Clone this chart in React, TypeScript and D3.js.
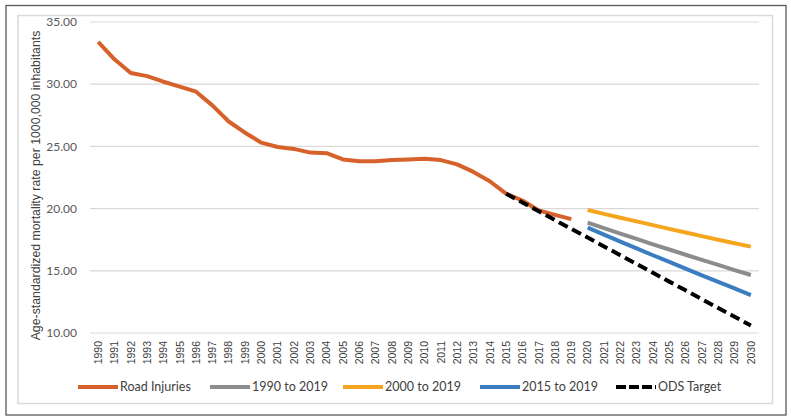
import React from "react";
import * as d3 from "d3";

const years: number[] = [];
for (let y = 1990; y <= 2030; y++) years.push(y);

const roadYears = [1990,1991,1992,1993,1994,1995,1996,1997,1998,1999,2000,2001,2002,2003,2004,2005,2006,2007,2008,2009,2010,2011,2012,2013,2014,2015,2016,2017,2018,2019];
const roadInjuries = [33.4,32.0,30.9,30.65,30.2,29.8,29.4,28.3,27.0,26.1,25.3,24.95,24.8,24.5,24.45,23.95,23.8,23.8,23.9,23.95,24.0,23.9,23.55,22.95,22.2,21.2,20.65,19.85,19.5,19.15];

const projYears = [2020,2021,2022,2023,2024,2025,2026,2027,2028,2029,2030];
const trend1990 = [18.87,18.43,17.99,17.56,17.13,16.71,16.29,15.88,15.47,15.06,14.66];
const trend2000 = [19.89,19.58,19.27,18.97,18.67,18.37,18.08,17.79,17.50,17.22,16.94];
const trend2015 = [18.47,17.91,17.35,16.80,16.25,15.71,15.17,14.64,14.11,13.58,13.05];

const odsYears = [2015,2016,2017,2018,2019,2020,2021,2022,2023,2024,2025,2026,2027,2028,2029,2030];
const odsTarget = [21.2,20.49,19.79,19.08,18.37,17.67,16.96,16.25,15.55,14.84,14.13,13.43,12.72,12.01,11.31,10.6];

const yTicks = [10, 15, 20, 25, 30, 35];

const series = [
  { name: "Road Injuries", xs: roadYears, ys: roadInjuries, color: "#D7612A", dash: "" },
  { name: "1990 to 2019", xs: projYears, ys: trend1990, color: "#8C8C8C", dash: "" },
  { name: "2000 to 2019", xs: projYears, ys: trend2000, color: "#F5A61E", dash: "" },
  { name: "2015 to 2019", xs: projYears, ys: trend2015, color: "#3A7DC0", dash: "" },
  { name: "ODS Target", xs: odsYears, ys: odsTarget, color: "#000000", dash: "10,5" },
];

const legendX = [78, 210, 343, 480, 616];

export default function App() {
  const W = 791, H = 420;
  const left = 90, right = 759, top = 22, bottom = 333;
  const x = d3.scaleBand<number>().domain(years).range([left, right]);
  const cx = (yr: number) => (x(yr) as number) + x.bandwidth() / 2;
  const y = d3.scaleLinear().domain([10, 35]).range([bottom, top]);
  const line = (xs: number[], ys: number[]) =>
    d3.line<number>().x((_, i) => cx(xs[i])).y((v) => y(v)).curve(d3.curveLinear)(ys) || "";

  return (
    <svg width={W} height={H} style={{ position: "absolute", left: 0, top: 0, background: "#fff" }}>
      <rect x={6} y={5.5} width={780} height={409.5} fill="#fff" stroke="#595959" strokeWidth={1.3} />
      <rect x={18} y={15.5} width={754.5} height={388} fill="#fff" stroke="#d9d9d9" strokeWidth={1.5} />
      {yTicks.map((t) => (
        <g key={t}>
          <line x1={left} x2={right} y1={y(t)} y2={y(t)} stroke="#d9d9d9" strokeWidth={1.2} />
          <text x={77} y={y(t)} dy="0.35em" textAnchor="end" fontFamily="Lato" fontSize={12} fill="#595959">
            {t.toFixed(2)}
          </text>
        </g>
      ))}
      <text
        transform={`translate(40,${(top + bottom) / 2 + 8}) rotate(-90)`}
        textAnchor="middle"
        fontFamily="Liberation Sans"
        fontSize={12.3}
        fill="#404040"
      >
        Age-standardized mortality rate per 1000,000 inhabitants
      </text>
      {years.map((yr) => (
        <text
          key={yr}
          transform={`translate(${cx(yr) + 3.8},341) rotate(-90)`}
          textAnchor="end"
          fontFamily="Liberation Sans"
          fontSize={10.5}
          fill="#404040"
        >
          {yr}
        </text>
      ))}
      {series.map((s) => (
        <path
          key={s.name}
          d={line(s.xs, s.ys)}
          fill="none"
          stroke={s.color}
          strokeWidth={4}
          strokeDasharray={s.dash || undefined}
          strokeLinejoin="round"
        />
      ))}
      {series.map((s, i) => (
        <g key={s.name + "leg"}>
          <line
            x1={legendX[i]}
            x2={legendX[i] + 40}
            y1={387}
            y2={387}
            stroke={s.color}
            strokeWidth={4}
            strokeDasharray={s.dash ? "10,3" : undefined}
          />
          <text x={legendX[i] + 42} y={387} dy="0.35em" fontFamily="Lato" fontSize={12.5} fill="#404040">
            {s.name}
          </text>
        </g>
      ))}
    </svg>
  );
}
